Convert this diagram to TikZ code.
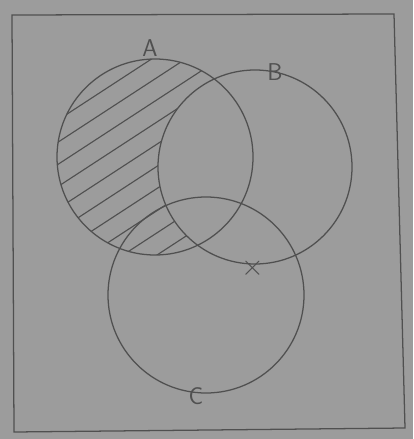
\documentclass[tikz,border=0pt]{standalone}
\usepackage{tikz}
\definecolor{paper}{RGB}{156,156,156}
\definecolor{inkgray}{RGB}{80,80,80}
\begin{document}
\begin{tikzpicture}[x=0.025cm,y=-0.025cm,
  ink/.style={draw=inkgray,line width=0.9pt},
  hatch/.style={draw=inkgray,line width=0.8pt},
  lbl/.style={text=inkgray,font=\sffamily\LARGE,inner sep=1pt}]
\fill[paper] (0,0) rectangle (413,439);
\draw[ink] (12,15) -- (394,14) -- (405,428) -- (14,432) -- cycle;
\coordinate (ca) at (155,157);
\coordinate (cb) at (255,167);
\coordinate (cc) at (206,295);
\begin{scope}
  \clip (ca) circle[radius=98];
  \foreach \k in {0,...,16} \draw[hatch] (-400+\k*34,330) -- ++(460,-300);
\end{scope}
\fill[paper] (cb) circle[radius=97];
\draw[ink] (ca) circle[radius=98];
\draw[ink] (cb) circle[radius=97];
\draw[ink] (cc) circle[radius=98];
\node[lbl] (la) at (150,48) {A};
\node[lbl] (lb) at (275,72) {B};
\node[lbl] (lc) at (196,396) {C};
\node[lbl,font=\huge] (mark) at (253,268) {$\times$};
\end{tikzpicture}
\end{document}
